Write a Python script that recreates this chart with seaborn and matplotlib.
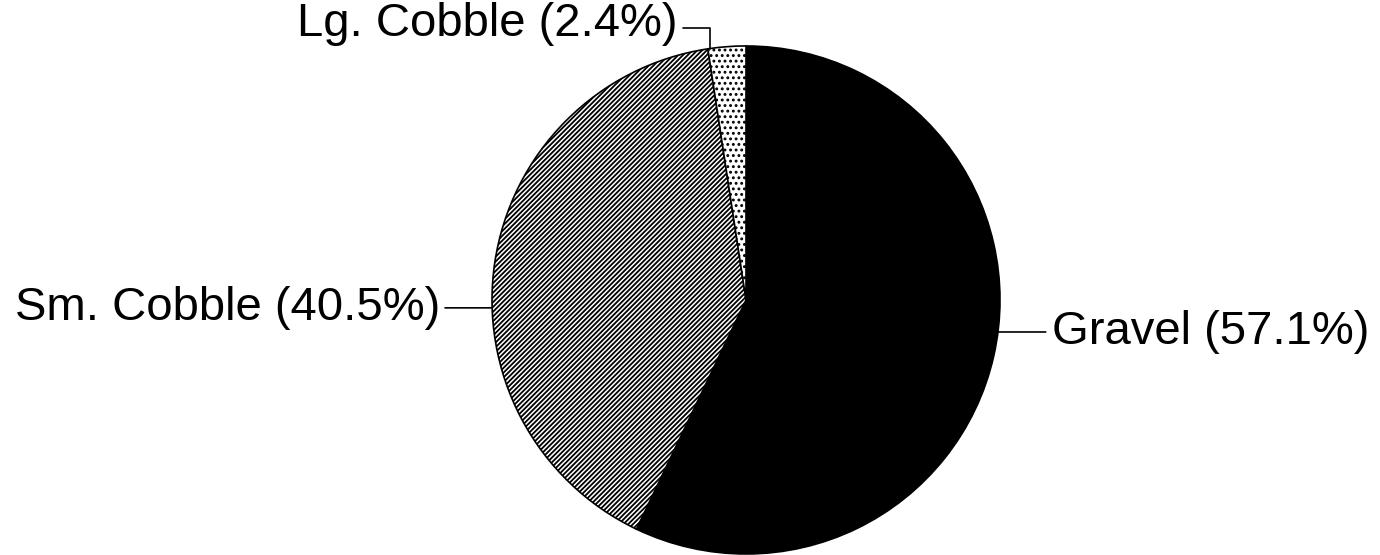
import matplotlib
matplotlib.use('Agg')
import matplotlib.pyplot as plt
import seaborn as sns

# Data
categories = ['Gravel', 'Sm. Cobble', 'Lg. Cobble']
percents = [57.1, 40.5, 2.4]
labels = ['Gravel (57.1%)', 'Sm. Cobble (40.5%)', 'Lg. Cobble (2.4%)']

sns.set_style('white')
plt.rcParams['font.family'] = ['Liberation Sans', 'DejaVu Sans']
plt.rcParams['text.color'] = 'black'
plt.rcParams['hatch.linewidth'] = 1.3

fig = plt.figure(figsize=(13.8, 5.55), dpi=100)
ax = fig.add_axes([0, 0, 1, 1])

wedges, _ = ax.pie(percents, startangle=90, counterclock=False, radius=1,
                   colors=['black', 'white', 'white'],
                   hatch=['', '///////', '...'],
                   wedgeprops=dict(edgecolor='black', linewidth=1.2))

ax.set_xlim(-2.937, 2.496)
ax.set_ylim(-1.004, 1.181)
ax.set_aspect('equal')
ax.axis('off')

fs = 34
line = dict(arrowstyle='-', color='black', lw=1.2, shrinkA=0, shrinkB=0)

# Gravel label on the right
gy = -0.126
gx = (1 - gy ** 2) ** 0.5
ax.annotate('', xy=(gx, gy), xytext=(1.18, gy), arrowprops=line)
ax.text(1.205, gy, labels[0], fontsize=fs, ha='left', va='center')

# Sm. Cobble label on the left
sy = -0.031
sx = -(1 - sy ** 2) ** 0.5
ax.annotate('', xy=(sx, sy), xytext=(-1.185, sy), arrowprops=line)
ax.text(-1.205, sy, labels[1], fontsize=fs, ha='right', va='center')

# Lg. Cobble label at the top, elbow leader
lx = -0.142
ly = (1 - lx ** 2) ** 0.5
ax.plot([-0.25, lx, lx], [1.071, 1.071, ly], color='black', lw=1.2)
ax.text(-0.268, 1.086, labels[2], fontsize=fs, ha='right', va='center')

fig.savefig('out.png', dpi=100)
